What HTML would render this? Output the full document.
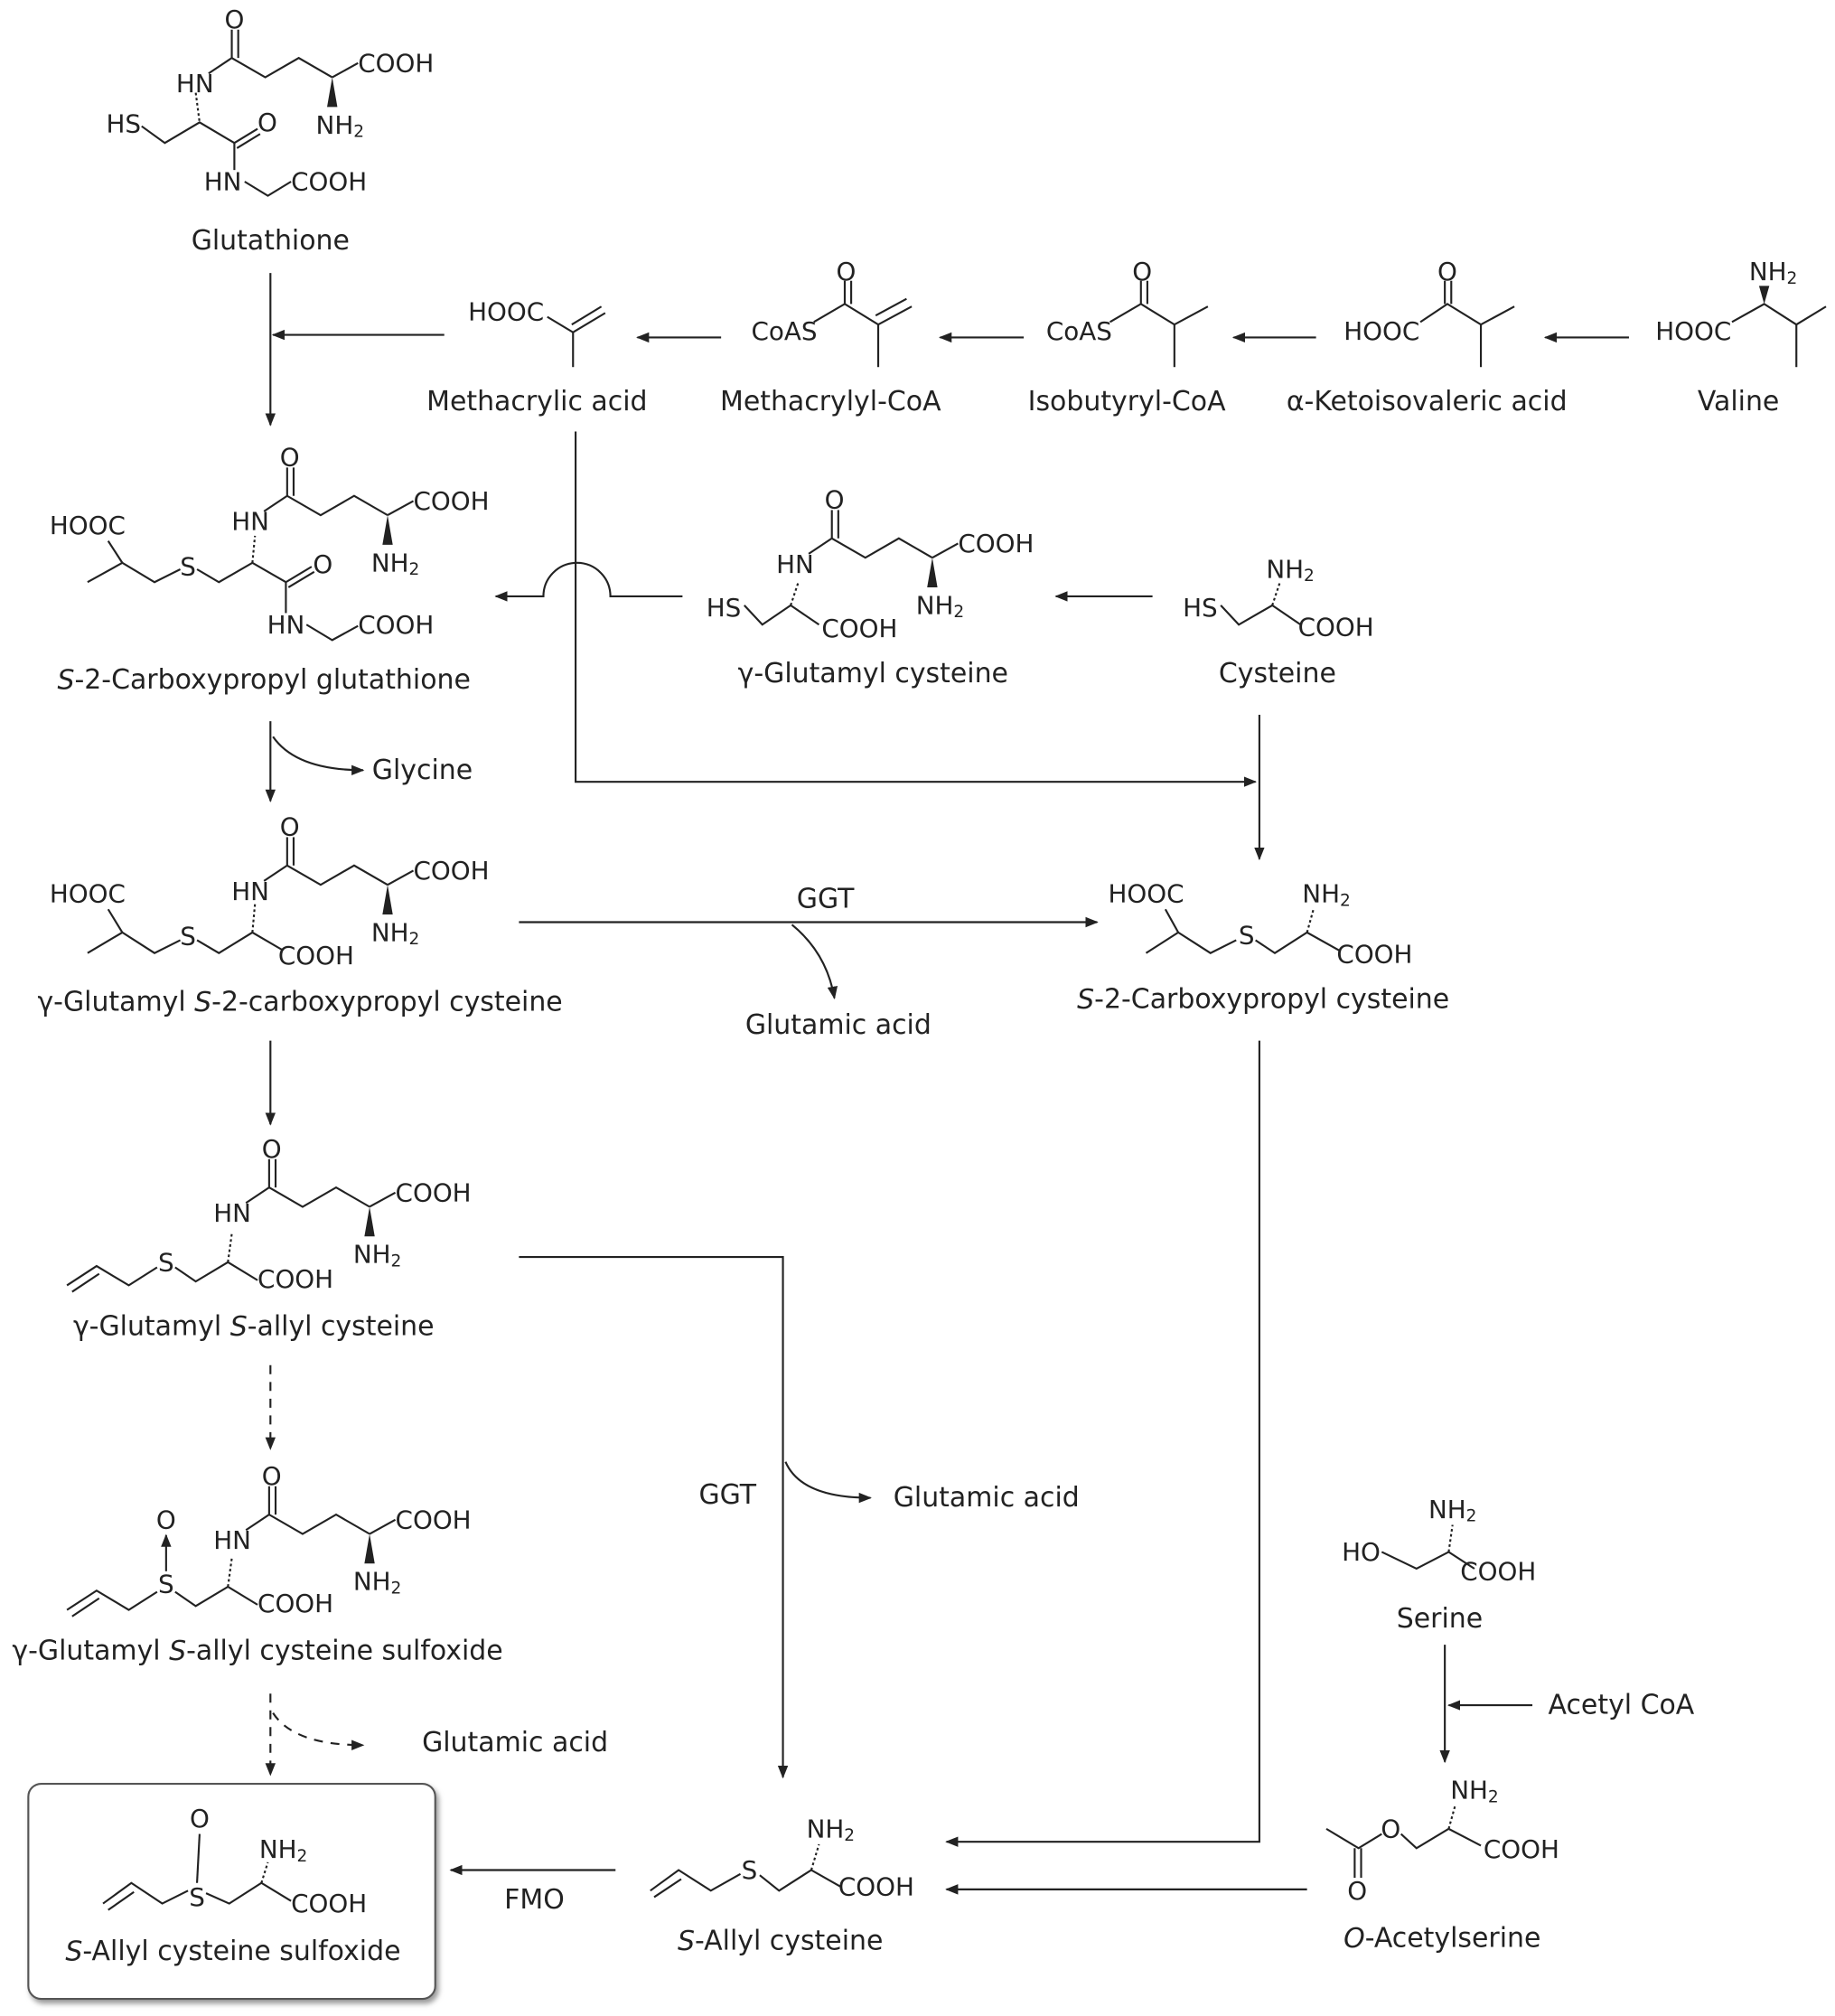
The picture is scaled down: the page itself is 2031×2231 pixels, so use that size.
<!DOCTYPE html>
<html><head><meta charset="utf-8"><style>
html,body{margin:0;padding:0;background:#fff}
svg{display:block}
text{font-family:"DejaVu Sans","Liberation Sans",sans-serif;fill:#222;dominant-baseline:central}
.l{font-size:21px;text-anchor:middle}
.c{font-size:19.5px}
.m{text-anchor:middle}
.e{text-anchor:end}
line,polyline,path{stroke:#222;stroke-width:1.5;fill:none}
</style></head><body>
<svg width="2031" height="2231" viewBox="0 0 1425 1565.3" xmlns="http://www.w3.org/2000/svg">
<defs>
<marker id="a" markerWidth="10" markerHeight="10" refX="9" refY="5" orient="auto" markerUnits="userSpaceOnUse"><path d="M0,1 L10,5 L0,9 Z" style="fill:#222;stroke:none"/></marker>
<g id="glu">
<line x1="0" y1="0" x2="0" y2="-22"/><line x1="5" y1="0" x2="5" y2="-22"/>
<text class="c m" x="2" y="-30">O</text>
<line x1="0" y1="0" x2="-18" y2="12"/>
<text class="c e" x="-14" y="20">HN</text>
<polyline points="0,0 26,15 52,0 78,15"/>
<line x1="78" y1="15" x2="98" y2="4"/>
<text class="c" x="98" y="4">COOH</text>
<polygon points="78,15 74,38 82,38" style="fill:#222"/>
<text class="c m" x="84" y="52">NH<tspan font-size="13" dy="5">2</tspan></text>
</g>
<filter id="sh"><feDropShadow dx="2" dy="3" stdDeviation="2" flood-color="#999"/></filter>
</defs>

<!-- Glutathione -->
<use href="#glu" x="180" y="45"/>
<line x1="152" y1="72" x2="155" y2="95" stroke-dasharray="2,2"/>
<text class="c m" x="96" y="96">HS</text>
<polyline points="110,98 128,111 155,95 182,111"/>
<line x1="182" y1="111" x2="200" y2="100"/><line x1="184" y1="115" x2="202" y2="104"/>
<text class="c" x="200" y="95">O</text>
<line x1="182" y1="111" x2="182" y2="132"/>
<text class="c m" x="173" y="141">HN</text>
<polyline points="190,141 208,152 226,141"/>
<text class="c" x="226" y="141">COOH</text>
<text class="l" x="210" y="187">Glutathione</text>

<line x1="210" y1="212" x2="210" y2="330" marker-end="url(#a)"/>
<line x1="345" y1="260" x2="212" y2="260" marker-end="url(#a)"/>

<!-- top row -->
<text class="c m" x="393" y="242">HOOC</text>
<polyline points="425,246 445,258 470,243"/><line x1="444" y1="252" x2="467" y2="238"/>
<line x1="445" y1="258" x2="445" y2="285"/>
<text class="l" x="417" y="312">Methacrylic acid</text>
<line x1="560" y1="262" x2="495" y2="262" marker-end="url(#a)"/>

<text class="c m" x="609" y="257">CoAS</text>
<polyline points="632,250 656,236 682,252 708,238"/><line x1="680" y1="245" x2="704" y2="232"/>
<line x1="656" y1="236" x2="656" y2="218"/><line x1="661" y1="236" x2="661" y2="218"/>
<text class="c m" x="657" y="211">O</text>
<line x1="682" y1="252" x2="682" y2="285"/>
<text class="l" x="645" y="312">Methacrylyl-CoA</text>
<line x1="795" y1="262" x2="730" y2="262" marker-end="url(#a)"/>

<text class="c m" x="838" y="257">CoAS</text>
<polyline points="862,250 886,236 912,252 938,238"/>
<line x1="886" y1="236" x2="886" y2="218"/><line x1="891" y1="236" x2="891" y2="218"/>
<text class="c m" x="887" y="211">O</text>
<line x1="912" y1="252" x2="912" y2="285"/>
<text class="l" x="875" y="312">Isobutyryl-CoA</text>
<line x1="1022" y1="262" x2="958" y2="262" marker-end="url(#a)"/>

<text class="c m" x="1073" y="257">HOOC</text>
<polyline points="1103,250 1124,236 1150,252 1176,238"/>
<line x1="1122" y1="236" x2="1122" y2="218"/><line x1="1127" y1="236" x2="1127" y2="218"/>
<text class="c m" x="1124" y="211">O</text>
<line x1="1150" y1="252" x2="1150" y2="285"/>
<text class="l" x="1108" y="312">α-Ketoisovaleric acid</text>
<line x1="1265" y1="262" x2="1200" y2="262" marker-end="url(#a)"/>

<text class="c m" x="1315" y="257">HOOC</text>
<polyline points="1345,250 1370,236 1395,252 1418,238"/>
<polygon points="1370,236 1366,222 1374,222" style="fill:#222"/>
<text class="c m" x="1377" y="211">NH<tspan font-size="13" dy="5">2</tspan></text>
<line x1="1395" y1="252" x2="1395" y2="285"/>
<text class="l" x="1350" y="312">Valine</text>

<!-- methacrylic -> S-2-CPC -->
<polyline points="447,335 447,607 975,607" marker-end="url(#a)"/>

<!-- CP glutathione -->
<use href="#glu" x="223" y="385"/>
<text class="c m" x="68" y="408">HOOC</text>
<line x1="84" y1="420" x2="95" y2="437"/>
<polyline points="68,452 95,437 120,452 140,442"/>
<text class="c m" x="146" y="440">S</text>
<polyline points="153,442 170,452 196,437 222,452"/>
<line x1="196" y1="437" x2="198" y2="416" stroke-dasharray="2,2"/>
<line x1="222" y1="452" x2="242" y2="440"/><line x1="224" y1="456" x2="244" y2="444"/>
<text class="c" x="243" y="438">O</text>
<line x1="222" y1="452" x2="222" y2="476"/>
<text class="c m" x="222" y="485">HN</text>
<polyline points="238,485 258,497 278,486"/>
<text class="c" x="278" y="485">COOH</text>
<text class="l" x="205" y="528"><tspan font-style="italic">S</tspan>-2-Carboxypropyl glutathione</text>

<path d="M530,463 L474,463 A26,26 0 0 0 422,463 L385,463" marker-end="url(#a)"/>

<!-- γ-glutamyl cysteine -->
<use href="#glu" x="646" y="418"/>
<text class="c m" x="562" y="472">HS</text>
<polyline points="578,470 592,485 614,470 636,485"/>
<line x1="614" y1="470" x2="620" y2="452" stroke-dasharray="2,2"/>
<text class="c" x="638" y="488">COOH</text>
<text class="l" x="678" y="523">γ-Glutamyl cysteine</text>
<line x1="895" y1="463" x2="820" y2="463" marker-end="url(#a)"/>

<!-- cysteine -->
<text class="c m" x="932" y="472">HS</text>
<polyline points="948,470 962,485 988,470 1010,485"/>
<line x1="988" y1="470" x2="994" y2="452" stroke-dasharray="2,2"/>
<text class="c m" x="1002" y="442">NH<tspan font-size="13" dy="5">2</tspan></text>
<text class="c" x="1008" y="487">COOH</text>
<text class="l" x="992" y="523">Cysteine</text>
<line x1="978" y1="555" x2="978" y2="667" marker-end="url(#a)"/>

<!-- glycine -->
<line x1="210" y1="560" x2="210" y2="622" marker-end="url(#a)"/>
<path d="M212,572 Q230,598 282,598" marker-end="url(#a)"/>
<text class="l" x="328" y="598">Glycine</text>

<!-- γ-Glu-CPC -->
<use href="#glu" x="223" y="672"/>
<text class="c m" x="68" y="694">HOOC</text>
<line x1="84" y1="706" x2="95" y2="724"/>
<polyline points="68,740 95,724 120,740 140,730"/>
<text class="c m" x="146" y="727">S</text>
<polyline points="153,730 170,740 196,724 220,738"/>
<line x1="196" y1="724" x2="198" y2="702" stroke-dasharray="2,2"/>
<text class="c" x="216" y="742">COOH</text>
<text class="l" x="233" y="778">γ-Glutamyl <tspan font-style="italic">S</tspan>-2-carboxypropyl cysteine</text>

<line x1="403" y1="716" x2="852" y2="716" marker-end="url(#a)"/>
<text class="l" x="641" y="698">GGT</text>
<path d="M615,718 Q642,740 648,775" marker-end="url(#a)"/>
<text class="l" x="651" y="796">Glutamic acid</text>

<!-- S-2-CPC -->
<text class="c m" x="890" y="694">HOOC</text>
<line x1="905" y1="706" x2="915" y2="724"/>
<polyline points="890,740 915,724 940,740 960,730"/>
<text class="c m" x="968" y="726">S</text>
<polyline points="975,730 990,740 1015,724 1040,738"/>
<line x1="1015" y1="724" x2="1020" y2="706" stroke-dasharray="2,2"/>
<text class="c m" x="1030" y="694">NH<tspan font-size="13" dy="5">2</tspan></text>
<text class="c" x="1038" y="741">COOH</text>
<text class="l" x="981" y="776"><tspan font-style="italic">S</tspan>-2-Carboxypropyl cysteine</text>
<polyline points="978,808 978,1430 735,1430" marker-end="url(#a)"/>

<line x1="210" y1="808" x2="210" y2="873" marker-end="url(#a)"/>

<!-- γGSAC -->
<use href="#glu" x="209" y="922"/>
<polyline points="52,998 75,983 100,998 122,984"/><line x1="56" y1="1003" x2="77" y2="989"/>
<text class="c m" x="129" y="980">S</text>
<polyline points="136,984 152,995 177,980 200,994"/>
<line x1="177" y1="980" x2="180" y2="958" stroke-dasharray="2,2"/>
<text class="c" x="200" y="993">COOH</text>
<text class="l" x="197" y="1030">γ-Glutamyl <tspan font-style="italic">S</tspan>-allyl cysteine</text>

<polyline points="403,976 608,976 608,1380" marker-end="url(#a)"/>
<path d="M610,1135 Q622,1163 676,1163" marker-end="url(#a)"/>
<text class="l" x="766" y="1163">Glutamic acid</text>
<text class="l" x="565" y="1161">GGT</text>

<line x1="210" y1="1060" x2="210" y2="1125" stroke-dasharray="7,6" marker-end="url(#a)"/>

<!-- sulfoxide -->
<use href="#glu" x="209" y="1176"/>
<polyline points="52,1250 75,1235 100,1250 122,1236"/><line x1="56" y1="1255" x2="77" y2="1241"/>
<text class="c m" x="129" y="1230">S</text>
<line x1="129" y1="1220" x2="129" y2="1192" marker-end="url(#a)"/>
<text class="c m" x="129" y="1180">O</text>
<polyline points="136,1236 152,1247 177,1232 200,1246"/>
<line x1="177" y1="1232" x2="180" y2="1210" stroke-dasharray="2,2"/>
<text class="c" x="200" y="1245">COOH</text>
<text class="l" x="200" y="1282">γ-Glutamyl <tspan font-style="italic">S</tspan>-allyl cysteine sulfoxide</text>

<line x1="210" y1="1315" x2="210" y2="1378" stroke-dasharray="7,6" marker-end="url(#a)"/>
<path d="M212,1330 Q228,1355 282,1355" stroke-dasharray="7,6" marker-end="url(#a)"/>
<text class="l" x="400" y="1353">Glutamic acid</text>

<!-- box -->
<rect x="22" y="1385" width="316" height="167" rx="10" style="fill:#fff;stroke:#555;stroke-width:1.5" filter="url(#sh)"/>
<polyline points="80,1478 102,1462 126,1478 146,1468"/><line x1="84" y1="1483" x2="104" y2="1469"/>
<text class="c m" x="153" y="1473">S</text>
<line x1="153" y1="1462" x2="155" y2="1424"/>
<text class="c m" x="155" y="1412">O</text>
<polyline points="160,1470 178,1478 203,1462 226,1476"/>
<line x1="203" y1="1462" x2="208" y2="1446" stroke-dasharray="2,2"/>
<text class="c m" x="220" y="1436">NH<tspan font-size="13" dy="5">2</tspan></text>
<text class="c" x="226" y="1478">COOH</text>
<text class="l" x="181" y="1515"><tspan font-style="italic">S</tspan>-Allyl cysteine sulfoxide</text>

<line x1="478" y1="1452" x2="350" y2="1452" marker-end="url(#a)"/>
<text class="l" x="415" y="1475">FMO</text>

<!-- S-allyl cysteine -->
<polyline points="505,1468 527,1452 552,1468 575,1455"/><line x1="508" y1="1473" x2="529" y2="1459"/>
<text class="c m" x="582" y="1452">S</text>
<polyline points="590,1456 605,1468 630,1452 653,1465"/>
<line x1="630" y1="1452" x2="636" y2="1432" stroke-dasharray="2,2"/>
<text class="c m" x="645" y="1420">NH<tspan font-size="13" dy="5">2</tspan></text>
<text class="c" x="651" y="1465">COOH</text>
<text class="l" x="606" y="1507"><tspan font-style="italic">S</tspan>-Allyl cysteine</text>
<line x1="1015" y1="1467" x2="735" y2="1467" marker-end="url(#a)"/>

<!-- serine -->
<text class="c m" x="1057" y="1205">HO</text>
<polyline points="1073,1205 1100,1218 1125,1205 1145,1218"/>
<line x1="1125" y1="1205" x2="1128" y2="1184" stroke-dasharray="2,2"/>
<text class="c m" x="1128" y="1172">NH<tspan font-size="13" dy="5">2</tspan></text>
<text class="c" x="1134" y="1220">COOH</text>
<text class="l" x="1118" y="1257">Serine</text>
<line x1="1122" y1="1277" x2="1122" y2="1368" marker-end="url(#a)"/>
<line x1="1190" y1="1324" x2="1125" y2="1324" marker-end="url(#a)"/>
<text class="l" x="1259" y="1324">Acetyl CoA</text>

<!-- O-acetylserine -->
<polyline points="1030,1420 1055,1435 1073,1424"/>
<line x1="1052" y1="1435" x2="1052" y2="1458"/><line x1="1057" y1="1435" x2="1057" y2="1458"/>
<text class="c m" x="1054" y="1468">O</text>
<text class="c m" x="1080" y="1420">O</text>
<polyline points="1088,1424 1100,1435 1125,1420 1150,1433"/>
<line x1="1125" y1="1420" x2="1130" y2="1402" stroke-dasharray="2,2"/>
<text class="c m" x="1145" y="1390">NH<tspan font-size="13" dy="5">2</tspan></text>
<text class="c" x="1152" y="1436">COOH</text>
<text class="l" x="1120" y="1505"><tspan font-style="italic">O</tspan>-Acetylserine</text>
</svg>
</body></html>
